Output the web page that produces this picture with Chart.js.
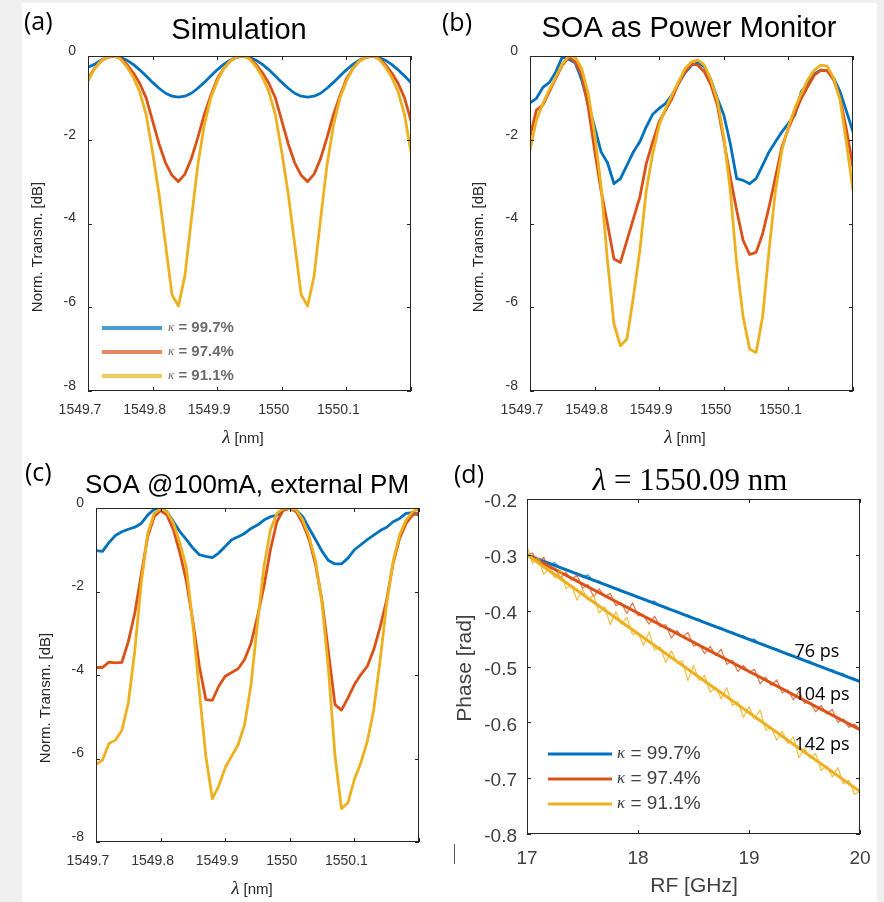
<!DOCTYPE html>
<html>
<head>
<meta charset="utf-8">
<script src="https://cdn.jsdelivr.net/npm/chart.js@4.4.1/dist/chart.umd.min.js"></script>
<style>
  html, body { margin: 0; padding: 0; background: #fff; }
  #fig { position: relative; width: 884px; height: 902px; background: #fff; overflow: hidden; }
  .strip { position: absolute; background: #f0eff0; }
  canvas { position: absolute; }
</style>
</head>
<body>
<div id="fig">
  <div class="strip" style="left:0;top:0;width:22px;height:902px"></div>
  <div class="strip" style="left:0;top:0;width:884px;height:3px"></div>
  <div class="strip" style="left:877px;top:0;width:7px;height:902px"></div>
  <canvas id="pa" width="442" height="451" style="left:0;top:0"></canvas>
  <canvas id="pb" width="442" height="451" style="left:442px;top:0"></canvas>
  <canvas id="pc" width="442" height="451" style="left:0;top:451px"></canvas>
  <canvas id="pd" width="442" height="451" style="left:442px;top:451px"></canvas>
</div>
<script>
// ── Données ───────────────────────────────────────────────────────────
const lam = [1549.70,1549.71,1549.72,1549.73,1549.74,1549.75,1549.76,1549.77,1549.78,1549.79,
             1549.80,1549.81,1549.82,1549.83,1549.84,1549.85,1549.86,1549.87,1549.88,1549.89,
             1549.90,1549.91,1549.92,1549.93,1549.94,1549.95,1549.96,1549.97,1549.98,1549.99,
             1550.00,1550.01,1550.02,1550.03,1550.04,1550.05,1550.06,1550.07,1550.08,1550.09,
             1550.10,1550.11,1550.12,1550.13,1550.14,1550.15,1550.16,1550.17,1550.18,1550.19,
             1550.20]

// (a) Simulation
const simBlue = [-0.27,-0.2,-0.1,-0.03,0,-0.03,-0.1,-0.2,-0.33,-0.48,
                 -0.63,-0.77,-0.89,-0.96,-0.98,-0.96,-0.89,-0.77,-0.63,-0.48,
                 -0.33,-0.2,-0.1,-0.03,0,-0.03,-0.1,-0.2,-0.33,-0.48,
                 -0.63,-0.77,-0.89,-0.96,-0.98,-0.96,-0.89,-0.77,-0.63,-0.48,
                 -0.33,-0.2,-0.1,-0.03,0,-0.03,-0.1,-0.2,-0.33,-0.48,
                 -0.63]
const simRed  = [-0.55,-0.3,-0.12,-0.03,0,-0.05,-0.2,-0.4,-0.65,-1.0,
                 -1.55,-2.1,-2.55,-2.85,-3.0,-2.82,-2.45,-1.95,-1.4,-0.95,
                 -0.55,-0.3,-0.12,-0.03,0,-0.05,-0.2,-0.4,-0.65,-1.0,
                 -1.55,-2.1,-2.55,-2.85,-3.0,-2.82,-2.45,-1.95,-1.4,-0.95,
                 -0.55,-0.3,-0.12,-0.03,0,-0.05,-0.2,-0.4,-0.65,-1.0,
                 -1.55]
const simYel  = [-0.6,-0.3,-0.12,-0.03,0,-0.07,-0.25,-0.5,-0.85,-1.4,
                 -2.3,-3.3,-4.5,-5.7,-5.97,-5.25,-3.9,-2.6,-1.65,-1.0,
                 -0.6,-0.3,-0.12,-0.03,0,-0.07,-0.25,-0.5,-0.85,-1.4,
                 -2.3,-3.3,-4.5,-5.7,-5.97,-5.25,-3.9,-2.6,-1.65,-1.0,
                 -0.6,-0.3,-0.12,-0.03,0,-0.07,-0.25,-0.5,-0.85,-1.4,
                 -2.3]

// (b) SOA as Power Monitor
const monBlue = [-1.12,-1.01,-0.75,-0.63,-0.38,-0.02,-0.08,-0.16,-0.57,-1.13,
                 -1.69,-2.29,-2.55,-3.05,-2.93,-2.61,-2.29,-2.05,-1.69,-1.39,
                 -1.25,-1.13,-0.93,-0.65,-0.4,-0.22,-0.16,-0.26,-0.57,-1.01,
                 -1.41,-2.09,-2.93,-2.97,-3.05,-2.93,-2.61,-2.29,-2.05,-1.81,
                 -1.61,-1.41,-0.85,-0.65,-0.43,-0.34,-0.35,-0.53,-0.85,-1.33,
                 -1.81]
const monRed  = [-1.92,-1.29,-1.17,-0.85,-0.53,-0.22,-0.03,-0.14,-0.46,-1.21,
                 -2.25,-3.21,-4.01,-4.85,-4.93,-4.41,-3.89,-3.37,-2.57,-2.05,
                 -1.57,-1.29,-1.01,-0.65,-0.38,-0.19,-0.22,-0.38,-0.69,-1.17,
                 -2.01,-2.89,-3.69,-4.41,-4.74,-4.69,-4.25,-3.61,-2.89,-2.17,
                 -1.73,-1.37,-1.01,-0.73,-0.46,-0.34,-0.35,-0.57,-1.01,-1.77,
                 -2.65]
const monYel  = [-2.25,-1.53,-1.13,-0.81,-0.5,-0.19,0,-0.03,-0.3,-0.89,
                 -1.85,-3.1,-4.9,-6.4,-6.92,-6.76,-5.76,-4.65,-3.21,-2.33,
                 -1.65,-1.25,-0.93,-0.61,-0.3,-0.14,-0.1,-0.22,-0.57,-1.05,
                 -1.93,-3.21,-4.97,-6.24,-7.0,-7.08,-6.24,-4.65,-3.21,-2.25,
                 -1.69,-1.25,-0.89,-0.57,-0.34,-0.22,-0.24,-0.53,-1.05,-2.09,
                 -3.21]

// (c) SOA @100mA, external PM
const extBlue = [-1.02,-1.04,-0.83,-0.66,-0.57,-0.51,-0.46,-0.37,-0.17,-0.03,
                 0,-0.09,-0.33,-0.57,-0.76,-0.96,-1.12,-1.16,-1.19,-1.08,
                 -0.92,-0.76,-0.69,-0.61,-0.49,-0.41,-0.29,-0.21,-0.17,-0.05,
                 0,-0.05,-0.21,-0.49,-0.76,-1.04,-1.26,-1.34,-1.34,-1.2,
                 -1.0,-0.88,-0.76,-0.65,-0.54,-0.46,-0.33,-0.25,-0.13,-0.11,
                 -0.17]
const extRed  = [-3.82,-3.82,-3.69,-3.71,-3.7,-3.2,-2.52,-1.6,-0.69,-0.21,
                 -0.06,-0.17,-0.53,-1.08,-1.76,-2.72,-3.79,-4.59,-4.61,-4.27,
                 -4.03,-3.94,-3.85,-3.63,-3.24,-2.6,-1.88,-1.0,-0.33,-0.05,
                 -0.01,-0.09,-0.37,-0.76,-1.36,-2.24,-3.47,-4.71,-4.84,-4.55,
                 -4.23,-3.99,-3.79,-3.39,-2.84,-2.2,-1.32,-0.73,-0.37,-0.17,
                 -0.11]
const extYel  = [-6.14,-6.04,-5.64,-5.56,-5.33,-4.67,-3.43,-1.8,-0.61,-0.13,
                 -0.02,-0.09,-0.37,-0.84,-1.44,-2.8,-4.4,-5.94,-6.96,-6.66,
                 -6.22,-5.94,-5.67,-5.19,-4.23,-2.76,-1.4,-0.53,-0.13,-0.01,
                 0,-0.05,-0.29,-0.69,-1.28,-2.3,-3.9,-5.94,-7.2,-7.06,
                 -6.5,-6.1,-5.59,-4.83,-3.63,-2.28,-1.28,-0.65,-0.29,-0.09,
                 -0.02]

// (d) Phase vs RF @ 1550.09 nm
const freq = [17.00,17.05,17.10,17.15,17.20,17.25,17.30,17.35,17.40,17.45,
              17.50,17.55,17.60,17.65,17.70,17.75,17.80,17.85,17.90,17.95,
              18.00,18.05,18.10,18.15,18.20,18.25,18.30,18.35,18.40,18.45,
              18.50,18.55,18.60,18.65,18.70,18.75,18.80,18.85,18.90,18.95,
              19.00,19.05,19.10,19.15,19.20,19.25,19.30,19.35,19.40,19.45,
              19.50,19.55,19.60,19.65,19.70,19.75,19.80,19.85,19.90,19.95,
              20.00]
const phBlue = [-0.300,-0.302,-0.309,-0.310,-0.317,-0.314,-0.324,-0.325,-0.331,-0.332,
                -0.340,-0.336,-0.347,-0.347,-0.354,-0.355,-0.362,-0.366,-0.369,-0.370,
                -0.377,-0.378,-0.384,-0.383,-0.392,-0.393,-0.399,-0.400,-0.407,-0.408,
                -0.414,-0.415,-0.422,-0.426,-0.430,-0.430,-0.437,-0.438,-0.445,-0.445,
                -0.452,-0.451,-0.460,-0.461,-0.467,-0.468,-0.475,-0.479,-0.482,-0.483,
                -0.490,-0.491,-0.497,-0.501,-0.505,-0.506,-0.512,-0.513,-0.520,-0.521,
                -0.528]
const phRed  = [-0.300,-0.297,-0.316,-0.304,-0.325,-0.324,-0.341,-0.331,-0.345,-0.336,
                -0.360,-0.353,-0.375,-0.361,-0.375,-0.369,-0.391,-0.386,-0.405,-0.386,
                -0.409,-0.409,-0.424,-0.410,-0.429,-0.425,-0.449,-0.436,-0.447,-0.439,
                -0.463,-0.460,-0.477,-0.464,-0.480,-0.469,-0.496,-0.489,-0.509,-0.498,
                -0.511,-0.505,-0.531,-0.519,-0.534,-0.524,-0.547,-0.542,-0.560,-0.544,
                -0.566,-0.564,-0.581,-0.570,-0.585,-0.577,-0.600,-0.594,-0.609,-0.603,
                -0.613]
const phYel  = [-0.285,-0.315,-0.304,-0.335,-0.324,-0.341,-0.326,-0.360,-0.355,-0.381,
                -0.362,-0.381,-0.372,-0.404,-0.393,-0.425,-0.402,-0.424,-0.412,-0.443,
                -0.440,-0.462,-0.438,-0.470,-0.465,-0.493,-0.472,-0.493,-0.490,-0.525,
                -0.498,-0.525,-0.516,-0.546,-0.537,-0.558,-0.538,-0.570,-0.563,-0.591,
                -0.572,-0.594,-0.578,-0.614,-0.609,-0.632,-0.616,-0.638,-0.626,-0.663,
                -0.647,-0.664,-0.656,-0.686,-0.678,-0.698,-0.681,-0.710,-0.704,-0.729,
                -0.724]
const fitF     = [17, 20]
const fitBlue  = [-0.300, -0.527]
const fitRed   = [-0.300, -0.613]
const fitYel   = [-0.300, -0.724]

const delayTxt = ['76 ps', '104 ps', '142 ps']
const delayF   = [19.41, 19.41, 19.41]
const delayPh  = [-0.474, -0.551, -0.641]

const kappa = ['99.7%', '97.4%', '91.1%']

// Graduations
const lamTicks  = [1549.7, 1549.8, 1549.9, 1550.0, 1550.1, 1550.2]
const lamLabels = ['1549.7', '1549.8', '1549.9', '1550', '1550.1', '']
const dbTicks   = [-8, -6, -4, -2, 0]
const dbLabels  = ['-8', '-6', '-4', '-2', '0']
const fTicks    = [17, 18, 19, 20]
const fLabels   = ['17', '18', '19', '20']
const phTicks   = [-0.8, -0.7, -0.6, -0.5, -0.4, -0.3, -0.2]
const phLabels  = ['-0.8', '-0.7', '-0.6', '-0.5', '-0.4', '-0.3', '-0.2']

// ── Style ─────────────────────────────────────────────────────────────
const BLUE = '#0072BD', RED = '#D95319', YEL = '#EDB120'
const SANS  = '"Liberation Sans", Arial, Helvetica, sans-serif'
const SERIF = '"Liberation Serif", "Times New Roman", serif'
const CALI  = '"Open Sans", "Noto Sans", sans-serif'
const colors = [BLUE, RED, YEL]

const pts = (xs, ys) => xs.map((x, i) => ({ x, y: ys[i] }))

function runsWidth(ctx, runs) {
    let w = 0
    for (const r of runs) { ctx.font = r[1]; w += ctx.measureText(r[0]).width }
    return w
}

function drawRuns(ctx, runs, x, y, align = 'left', rot = 0, baseline = 'alphabetic') {
    ctx.save()
    ctx.translate(x, y)
    if (rot) ctx.rotate(rot)
    ctx.textAlign = 'left'
    ctx.textBaseline = baseline
    let cx = align === 'center' ? -runsWidth(ctx, runs) / 2 : 0
    for (const [t, f, c] of runs) {
        ctx.font = f
        ctx.fillStyle = c || '#000'
        ctx.fillText(t, cx, 0)
        cx += ctx.measureText(t).width
    }
    ctx.restore()
}

// ── Plugin : cadre, graduations internes, textes, légende ─────────────
const deco = {
    id: 'deco',
    afterDraw(chart, args, o) {
        const { ctx, chartArea: a } = chart
        const xs = chart.scales.x, ys = chart.scales.y
        ctx.save()

        // cadre type MATLAB
        ctx.strokeStyle = '#262626'
        ctx.lineWidth = 1
        ctx.strokeRect(a.left + 0.5, a.top + 0.5, a.right - a.left - 1, a.bottom - a.top - 1)
        ctx.beginPath()
        xs.ticks.forEach(t => {
            const px = Math.round(xs.getPixelForValue(t.value)) + 0.5
            ctx.moveTo(px, a.bottom); ctx.lineTo(px, a.bottom - 4)
            ctx.moveTo(px, a.top);    ctx.lineTo(px, a.top + 4)
        })
        ys.ticks.forEach(t => {
            const py = Math.round(ys.getPixelForValue(t.value)) + 0.5
            ctx.moveTo(a.left, py);  ctx.lineTo(a.left + 4, py)
            ctx.moveTo(a.right, py); ctx.lineTo(a.right - 4, py)
        })
        ctx.stroke()

        // textes
        for (const t of o.texts || []) drawRuns(ctx, t.runs, t.x, t.y, t.align, t.rot, t.baseline)

        // légende
        const lg = o.legend
        if (lg) {
            lg.ys.forEach((y, i) => {
                ctx.globalAlpha = lg.alpha || 1
                ctx.strokeStyle = colors[i]
                ctx.lineWidth = lg.lw
                ctx.beginPath(); ctx.moveTo(lg.x0, y); ctx.lineTo(lg.x1, y); ctx.stroke()
                ctx.globalAlpha = 1
                drawRuns(ctx, [['κ', lg.kFont, lg.color], [' = ' + kappa[i], lg.font, lg.color]],
                         lg.tx, y, 'left', 0, 'middle')
            })
        }

        // annotations retard de groupe
        if (o.delays) {
            delayTxt.forEach((s, i) => {
                drawRuns(ctx, [[s, '18px ' + CALI, '#000']],
                         xs.getPixelForValue(delayF[i]), ys.getPixelForValue(delayPh[i]), 'left', 0, 'middle')
            })
        }

        // petit trait parasite sous l'axe (d)
        if (o.stray) {
            ctx.strokeStyle = '#555'
            ctx.lineWidth = 1
            ctx.beginPath(); ctx.moveTo(o.stray[0] + 0.5, o.stray[1]); ctx.lineTo(o.stray[0] + 0.5, o.stray[2]); ctx.stroke()
        }
        ctx.restore()
    }
}

function buildChart(id, c) {
    const W = 442, H = 451, a = c.area
    return new Chart(document.getElementById(id), {
        type: 'line',
        data: { datasets: c.datasets },
        options: {
            responsive: false,
            animation: false,
            devicePixelRatio: 1,
            layout: { padding: { left: 0, top: a.top, right: W - a.right, bottom: 0 } },
            elements: { point: { radius: 0 }, line: { tension: 0, borderJoinStyle: 'round' } },
            plugins: { legend: { display: false }, tooltip: { enabled: false }, deco: c.deco },
            scales: {
                x: {
                    type: 'linear', min: c.xMin, max: c.xMax,
                    grid: { display: false, drawTicks: false }, border: { display: false },
                    afterBuildTicks: s => { s.ticks = c.xTicks.map(v => ({ value: v })) },
                    afterFit: s => { s.height = H - a.bottom },
                    ticks: {
                        callback: (v, i) => c.xLabels[i],
                        font: c.tickFont, color: c.tickColor,
                        padding: c.xPad, labelOffset: c.xOff,
                        maxRotation: 0, autoSkip: false
                    }
                },
                y: {
                    type: 'linear', min: c.yMin, max: c.yMax,
                    grid: { display: false, drawTicks: false }, border: { display: false },
                    afterBuildTicks: s => { s.ticks = c.yTicks.map(v => ({ value: v })) },
                    afterFit: s => { s.width = a.left },
                    ticks: {
                        callback: (v, i) => c.yLabels[i],
                        font: c.tickFont, color: c.tickColor,
                        padding: c.yPad, labelOffset: c.yOff,
                        autoSkip: false
                    }
                }
            }
        },
        plugins: [deco]
    })
}

function transSets(b, r, y) {
    return [
        { data: pts(lam, b), borderColor: BLUE, borderWidth: 2.8, order: 3 },
        { data: pts(lam, r), borderColor: RED,  borderWidth: 2.8, order: 2 },
        { data: pts(lam, y), borderColor: YEL,  borderWidth: 2.8, order: 1 }
    ]
}

const transBase = {
    xMin: 1549.7, xMax: 1550.2, yMin: -8, yMax: 0,
    xTicks: lamTicks, xLabels: lamLabels, yTicks: dbTicks, yLabels: dbLabels,
    tickFont: { family: SANS, size: 14 }, tickColor: '#333',
    xPad: 11, yPad: 12, xOff: -8, yOff: -5
}

const lamLabel = (x, y) => ({
    runs: [['λ', 'italic 19px ' + SERIF, '#262626'], [' [nm]', '15px ' + SANS, '#262626']],
    x, y, align: 'center'
})
const dbLabel = (x, y) => ({
    runs: [['Norm. Transm. [dB]', '15px ' + SANS, '#262626']],
    x, y, align: 'center', rot: -Math.PI / 2, baseline: 'middle'
})
const tag = (s, x, y) => ({ runs: [[s, '25px ' + CALI, '#000']], x, y })

// (a)
buildChart('pa', {
    ...transBase,
    area: { left: 88, right: 411, top: 56, bottom: 391 },
    datasets: transSets(simBlue, simRed, simYel),
    deco: {
        texts: [
            tag('(a)', 24, 30),
            { runs: [['Simulation', '29px ' + SANS, '#000']], x: 239, y: 39, align: 'center' },
            dbLabel(38, 247),
            lamLabel(243, 443)
        ],
        legend: { x0: 102, x1: 162, tx: 168, ys: [328, 352, 376], lw: 4, alpha: 0.7,
                  font: 'bold 15px ' + SANS, kFont: 'italic 13px ' + SERIF, color: '#6b6b6b' }
    }
})

// (b)
buildChart('pb', {
    ...transBase,
    area: { left: 88, right: 411, top: 56, bottom: 391 },
    datasets: transSets(monBlue, monRed, monYel),
    deco: {
        texts: [
            tag('(b)', 0, 31),
            { runs: [['SOA as Power Monitor', '29px ' + SANS, '#000']], x: 247, y: 37, align: 'center' },
            dbLabel(37, 247),
            lamLabel(243, 443)
        ]
    }
})

// (c)
buildChart('pc', {
    ...transBase,
    area: { left: 96, right: 419, top: 57, bottom: 391 },
    datasets: transSets(extBlue, extRed, extYel),
    deco: {
        texts: [
            tag('(c)', 25, 30),
            { runs: [['SOA @100mA, external PM', '26px ' + SANS, '#000']], x: 247, y: 42, align: 'center' },
            dbLabel(46, 247),
            lamLabel(252, 443)
        ]
    }
})

// (d)
buildChart('pd', {
    area: { left: 85, right: 418, top: 48, bottom: 383 },
    xMin: 17, xMax: 20, yMin: -0.8, yMax: -0.2,
    xTicks: fTicks, xLabels: fLabels, yTicks: phTicks, yLabels: phLabels,
    tickFont: { family: SANS, size: 19 }, tickColor: '#404040',
    xPad: 13, yPad: 10, xOff: 0, yOff: 3,
    datasets: [
        { data: pts(freq, phBlue), borderColor: 'rgba(0,114,189,0.75)',  borderWidth: 1.3, order: 6 },
        { data: pts(fitF, fitBlue), borderColor: BLUE, borderWidth: 3, order: 5 },
        { data: pts(freq, phRed),  borderColor: 'rgba(217,83,25,0.75)',  borderWidth: 1.3, order: 4 },
        { data: pts(fitF, fitRed),  borderColor: RED,  borderWidth: 3, order: 3 },
        { data: pts(freq, phYel),  borderColor: 'rgba(237,177,32,0.8)',  borderWidth: 1.3, order: 2 },
        { data: pts(fitF, fitYel),  borderColor: YEL,  borderWidth: 3, order: 1 }
    ],
    deco: {
        texts: [
            tag('(d)', 12, 32),
            { runs: [['λ', 'italic 31px ' + SERIF, '#000'], [' = 1550.09 nm', '31px ' + SERIF, '#000']],
              x: 248, y: 39, align: 'center' },
            { runs: [['Phase [rad]', '21px ' + SANS, '#404040']], x: 23, y: 217, align: 'center',
              rot: -Math.PI / 2, baseline: 'middle' },
            { runs: [['RF [GHz]', '21px ' + SANS, '#404040']], x: 252, y: 441, align: 'center' }
        ],
        legend: { x0: 106, x1: 170, tx: 175, ys: [303, 328, 353], lw: 3, alpha: 1,
                  font: '19px ' + SANS, kFont: 'italic 17px ' + SERIF, color: '#404040' },
        delays: true,
        stray: [12, 393, 413]
    }
})
</script>
</body>
</html>
